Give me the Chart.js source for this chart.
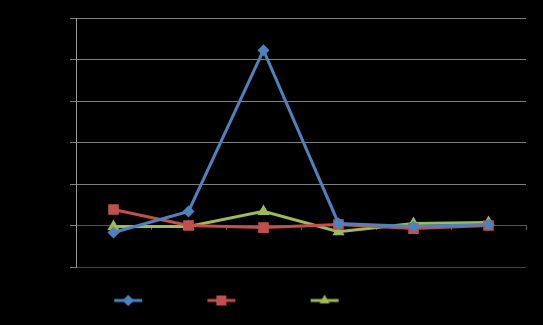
<!DOCTYPE html>
<html>
<head>
<meta charset="utf-8">
<script src="https://cdn.jsdelivr.net/npm/chart.js@4/dist/chart.umd.min.js"></script>
<style>
  html, body { margin: 0; padding: 0; background: #000; }
  #wrap { width: 543px; height: 325px; }
</style>
</head>
<body>
<div id="wrap"><canvas id="chart"></canvas></div>
<script>
// values (percent)
const categories = ['1', '2', '3', '4', '5', '6'];
const seriesNames = ['Plan.', 'Actual.', 'Year before'];
const blueValues = [-3.4, 6.8, 84.5, 1, -0.5, 0.5];
const redValues = [7.7, 0, -1, 0.5, -1.5, 0];
const greenValues = [-0.5, -0.5, 6.8, -3, 1, 1.5];
const yTicks = [-20, 0, 20, 40, 60, 80, 100];

const colors = ['#4F81BD', '#C0504D', '#9BBB59'];
const styles = ['rectRot', 'rect', 'triangle'];
const radii = [6, 7.5, 7];

// little "line with marker" swatch for the legend
function swatch(color, style) {
    const c = document.createElement('canvas');
    c.width = 30; c.height = 14;
    const g = c.getContext('2d');
    g.strokeStyle = color;
    g.lineWidth = 3;
    g.beginPath(); g.moveTo(1, 7); g.lineTo(29, 7); g.stroke();
    g.fillStyle = color;
    Chart.helpers.drawPoint(g, { pointStyle: style, radius: style === 'rect' ? 7 : 5.5, rotation: 0, borderWidth: 0 }, 15, 7);
    g.fill();
    return c;
}

const ctx = document.getElementById('chart').getContext('2d');
const values = [blueValues, redValues, greenValues];

new Chart(ctx, {
    type: 'line',
    data: {
        labels: categories,
        datasets: values.map((v, i) => ({
            label: seriesNames[i],
            data: v,
            borderColor: colors[i],
            backgroundColor: colors[i],
            borderWidth: 3,
            pointStyle: styles[i],
            pointRadius: radii[i],
            pointBorderWidth: 0,
            tension: 0
        }))
    },
    options: {
        responsive: true,
        maintainAspectRatio: false,
        animation: false,
        layout: { padding: { top: 18, right: 17, left: 0, bottom: 8 } },
        plugins: {
            tooltip: { enabled: false },
            legend: {
                position: 'bottom',
                labels: {
                    color: '#000',
                    font: { family: 'Liberation Sans', size: 13 },
                    usePointStyle: true,
                    pointStyleWidth: 30,
                    padding: 27,
                    generateLabels: chart => chart.data.datasets.map((d, i) => ({
                        text: d.label,
                        pointStyle: swatch(colors[i], styles[i]),
                        fontColor: '#000',
                        strokeStyle: 'transparent',
                        fillStyle: 'transparent',
                        lineWidth: 0,
                        datasetIndex: i
                    }))
                }
            }
        },
        scales: {
            x: {
                position: { y: 0 },
                offset: true,
                grid: { drawOnChartArea: false, color: '#555', tickLength: 4, offset: true },
                border: { color: '#555', dash: [4, 3] },
                ticks: { color: '#000', font: { size: 11 } }
            },
            y: {
                min: -20,
                max: 100,
                afterBuildTicks: s => { s.ticks = yTicks.map(v => ({ value: v })); },
                afterFit: s => { s.width = 76; },
                grid: {
                    color: c => c.tick && c.tick.value === 0 ? 'rgba(0,0,0,0)' : (c.tick && c.tick.value === -20 ? '#444' : '#7f7f7f'),
                    tickColor: '#7f7f7f',
                    tickLength: 6
                },
                border: { color: '#9a9a9a' },
                ticks: { color: '#000', font: { size: 11 }, callback: v => v + '%' }
            }
        }
    }
});
</script>
</body>
</html>
